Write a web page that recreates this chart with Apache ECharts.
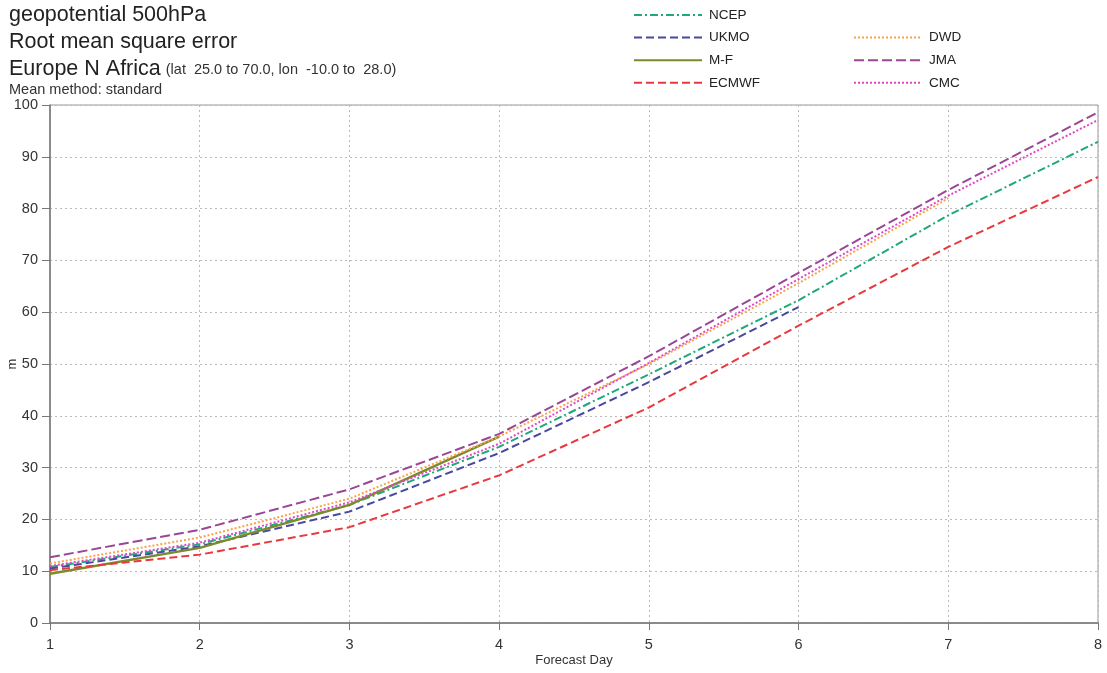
<!DOCTYPE html>
<html>
<head>
<meta charset="utf-8">
<script src="https://cdn.jsdelivr.net/npm/echarts@6/dist/echarts.min.js"></script>
<style>
  html, body { margin: 0; padding: 0; background: #fff; }
  #chart { width: 1107px; height: 673px; }
</style>
</head>
<body>
<div id="chart"></div>
<script>
// forecast days and RMSE per centre (m)
var days = [1, 2, 3, 4, 5, 6, 7, 8];
var ncep  = [10.8, 15.2, 22.8, 34.0, 48.0, 62.3, 78.7, 92.9];
var ukmo  = [10.5, 14.8, 21.5, 32.8, 46.5, 61.0];
var mf    = [9.5, 14.5, 22.8, 36.0];
var ecmwf = [10.2, 13.2, 18.5, 28.5, 41.6, 57.4, 72.6, 86.1];
var dwd   = [11.5, 16.5, 24.0, 36.0, 50.0, 65.6, 82.0];
var jma   = [12.7, 18.0, 25.8, 36.5, 51.5, 67.6, 83.6, 98.6];
var cmc   = [11.0, 15.5, 23.3, 34.6, 50.2, 66.4, 82.5, 97.1];
var yTicks = [0, 100, 10];

function pairs(vals) {
    return vals.map(function (v, i) { return [days[i], v]; });
}

var myChart = echarts.init(document.getElementById('chart'));

function mkSeries(name, vals, color, type, width) {
    return {
        name: name,
        type: 'line',
        data: pairs(vals),
        showSymbol: false,
        symbol: 'none',
        color: color,
        lineStyle: { color: color, width: width || 2, type: type }
    };
}

var legendCommon = {
    orient: 'vertical',
    itemWidth: 68,
    itemHeight: 10,
    itemGap: 8.6,
    itemStyle: { opacity: 0 },
    textStyle: { fontFamily: 'Liberation Sans', fontSize: 13.5, lineHeight: 14, color: '#222', padding: [0, 0, 0, 2] }
};

option = {
    backgroundColor: '#fff',
    animation: false,
    title: {
        left: 4,
        top: -3,
        text: '{a|geopotential 500hPa}\n{a|Root mean square error}\n{a|Europe N Africa} {s|(lat  25.0 to 70.0, lon  -10.0 to  28.0)}\n{m|Mean method: standard}',
        textStyle: {
            fontFamily: 'Liberation Sans',
            fontWeight: 'normal',
            rich: {
                a: { fontSize: 21.5, color: '#222', lineHeight: 27, fontFamily: 'Liberation Sans' },
                s: { fontSize: 14.5, color: '#333', lineHeight: 27, fontFamily: 'Liberation Sans' },
                m: { fontSize: 14.5, color: '#333', lineHeight: 14, fontFamily: 'Liberation Sans' }
            }
        }
    },
    legend: [
        Object.assign({ left: 628, top: 3, data: ['NCEP', 'UKMO', 'M-F', 'ECMWF'] }, legendCommon),
        Object.assign({ left: 848, top: 25.6, data: ['DWD', 'JMA', 'CMC'] }, legendCommon)
    ],
    grid: {
        left: 50, right: 9, top: 105, bottom: 50,
        outerBoundsMode: 'none',
        containLabel: false,
        show: true, borderColor: '#999', borderWidth: 1
    },
    xAxis: {
        type: 'value',
        min: 1, max: 8, interval: 1,
        name: 'Forecast Day',
        nameLocation: 'middle',
        nameGap: 31,
        nameMoveOverlap: false,
        nameTextStyle: { fontFamily: 'Liberation Sans', fontSize: 13, color: '#333' },
        axisLine: { lineStyle: { color: '#777', width: 1.5 } },
        axisTick: { show: true, length: 7, lineStyle: { color: '#777' } },
        axisLabel: { fontFamily: 'Liberation Sans', fontSize: 14.5, color: '#333', margin: 14 },
        splitLine: { show: true, lineStyle: { color: '#bbb', type: [2, 3] } }
    },
    yAxis: {
        type: 'value',
        min: yTicks[0], max: yTicks[1], interval: yTicks[2],
        name: 'm',
        nameLocation: 'middle',
        nameRotate: 90,
        nameGap: 31,
        nameMoveOverlap: false,
        nameTextStyle: { fontFamily: 'Liberation Sans', fontSize: 13, color: '#333' },
        axisLine: { show: true, lineStyle: { color: '#777', width: 1.5 } },
        axisTick: { show: true, length: 8, lineStyle: { color: '#777' } },
        axisLabel: { fontFamily: 'Liberation Sans', fontSize: 14.5, color: '#333', margin: 12 },
        splitLine: { show: true, lineStyle: { color: '#bbb', type: [2, 3] } }
    },
    series: [
        mkSeries('NCEP', ncep, '#20a878', [8, 3, 2, 3], 2),
        mkSeries('UKMO', ukmo, '#4848a0', [8, 4], 2),
        mkSeries('M-F', mf, '#7d8a2c', 'solid', 2.5),
        mkSeries('ECMWF', ecmwf, '#e83a3e', [8, 4], 2),
        mkSeries('DWD', dwd, '#f7a448', [2, 2], 2),
        mkSeries('JMA', jma, '#9a4696', [10, 4], 2),
        mkSeries('CMC', cmc, '#e048c8', [2, 2], 2)
    ]
};

myChart.setOption(option);
</script>
</body>
</html>
